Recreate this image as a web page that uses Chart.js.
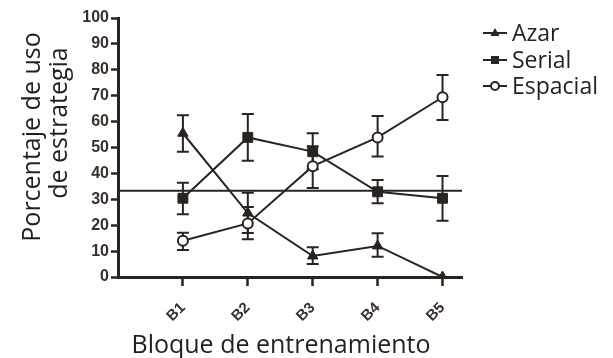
<!DOCTYPE html>
<html>
<head>
<meta charset="utf-8">
<script src="https://cdn.jsdelivr.net/npm/chart.js@4.4.1/dist/chart.umd.min.js"></script>
<style>
  html, body { margin: 0; padding: 0; background: #ffffff; }
  #wrap { width: 613px; height: 358px; position: relative; }
</style>
</head>
<body>
<div id="wrap"><canvas id="c" width="613" height="358"></canvas></div>
<script>
// ---- Data ----
const categories = ['B1', 'B2', 'B3', 'B4', 'B5'];
const yTicks = [0, 10, 20, 30, 40, 50, 60, 70, 80, 90, 100];

const azar = [55.5, 24.7, 8.1, 12.0, 0];
const azarLow = [48.4, 17.0, 5.0, 7.8, 0];
const azarHigh = [62.5, 32.5, 11.5, 16.9, 0];

const serial = [30.4, 53.9, 48.4, 32.9, 30.4];
const serialLow = [24.2, 44.9, 41.6, 28.5, 21.7];
const serialHigh = [36.4, 62.9, 55.5, 37.5, 39.0];

const espacial = [14.0, 20.7, 42.8, 53.9, 69.4];
const espacialLow = [10.4, 14.6, 34.4, 46.5, 60.6];
const espacialHigh = [17.1, 27.0, 50.5, 62.2, 78.0];

const chanceLevel = 33.3;

const seriesNames = ['Azar', 'Serial', 'Espacial'];

// ---- Styles ----
const INK = '#2a2320';
const TICKINK = '#3a2f2a';
const TEXTINK = '#231f20';
const FONT = "'Open Sans', 'Noto Sans', sans-serif";

const toPts = arr => arr.map((v, i) => ({ x: i + 1, y: v }));

const errorSets = [
  { low: azarLow, high: azarHigh },
  { low: serialLow, high: serialHigh },
  { low: espacialLow, high: espacialHigh }
];

const errorBarPlugin = {
  id: 'errorBars',
  beforeDatasetsDraw(chart) {
    const { ctx, scales: { x, y } } = chart;
    ctx.save();
    ctx.strokeStyle = INK;
    ctx.lineWidth = 2;
    errorSets.forEach(es => {
      es.low.forEach((lo, i) => {
        const hi = es.high[i];
        if (hi === lo) return;
        const px = x.getPixelForValue(i + 1);
        const pl = y.getPixelForValue(lo);
        const ph = y.getPixelForValue(hi);
        const cap = 6;
        ctx.beginPath();
        ctx.moveTo(px, pl); ctx.lineTo(px, ph);
        ctx.moveTo(px - cap, pl); ctx.lineTo(px + cap, pl);
        ctx.moveTo(px - cap, ph); ctx.lineTo(px + cap, ph);
        ctx.stroke();
      });
    });
    ctx.restore();
  }
};

const textPlugin = {
  id: 'texts',
  afterDraw(chart) {
    const { ctx } = chart;
    ctx.save();
    ctx.fillStyle = TEXTINK;
    // Y title (two lines)
    ctx.font = "25px " + FONT;
    ctx.textAlign = 'center';
    ctx.textBaseline = 'alphabetic';
    ctx.save(); ctx.translate(40, 137); ctx.rotate(-Math.PI / 2); ctx.fillText('Porcentaje de uso', 0, 0); ctx.restore();
    ctx.save(); ctx.translate(67, 123); ctx.rotate(-Math.PI / 2); ctx.fillText('de estrategia', 0, 0); ctx.restore();
    // X title
    ctx.font = "25px " + FONT;
    ctx.fillText('Bloque de entrenamiento', 281, 353);
    // Legend
    const ys = [33, 60, 86];
    const styles = ['triangle', 'rect', 'circle'];
    ctx.font = "23px " + FONT;
    ctx.textAlign = 'left';
    ctx.textBaseline = 'middle';
    seriesNames.forEach((name, i) => {
      const yy = ys[i];
      ctx.strokeStyle = INK; ctx.lineWidth = 2;
      ctx.beginPath(); ctx.moveTo(483, yy); ctx.lineTo(507, yy); ctx.stroke();
      const cx = 495;
      if (styles[i] === 'triangle') {
        ctx.fillStyle = INK;
        ctx.beginPath(); ctx.moveTo(cx, yy - 5); ctx.lineTo(cx + 4.5, yy + 3); ctx.lineTo(cx - 4.5, yy + 3); ctx.closePath(); ctx.fill();
      } else if (styles[i] === 'rect') {
        ctx.fillStyle = INK; ctx.fillRect(cx - 4, yy - 4, 8, 8);
      } else {
        ctx.fillStyle = '#ffffff';
        ctx.beginPath(); ctx.arc(cx, yy, 4, 0, Math.PI * 2); ctx.fill(); ctx.stroke();
      }
      ctx.fillStyle = TEXTINK;
      ctx.fillText(name, 512, yy + 1);
    });
    ctx.restore();
  }
};

new Chart(document.getElementById('c'), {
  type: 'line',
  data: {
    datasets: [
      {
        label: seriesNames[0], data: toPts(azar), borderColor: INK, backgroundColor: INK,
        borderWidth: 2, pointStyle: 'triangle', pointRadius: 6, pointBorderWidth: 1, order: 1
      },
      {
        label: seriesNames[1], data: toPts(serial), borderColor: INK, backgroundColor: INK,
        borderWidth: 2, pointStyle: 'rect', pointRadius: 7, pointBorderWidth: 1, order: 2
      },
      {
        label: seriesNames[2], data: toPts(espacial), borderColor: INK, backgroundColor: '#ffffff',
        borderWidth: 2, pointStyle: 'circle', pointRadius: 5, pointBorderWidth: 2, order: 0
      },
      {
        label: 'chance', data: [{ x: 0, y: chanceLevel }, { x: 5.3, y: chanceLevel }],
        borderColor: INK, borderWidth: 2, pointRadius: 0, order: 5
      }
    ]
  },
  options: {
    responsive: false,
    animation: false,
    devicePixelRatio: 1,
    layout: { padding: { top: 18, right: 151, left: 0, bottom: 0 } },
    plugins: { legend: { display: false }, tooltip: { enabled: false } },
    scales: {
      x: {
        type: 'linear', min: 0, max: 5.3,
        afterBuildTicks(axis) { axis.ticks = categories.map((c, i) => ({ value: i + 1 })); },
        afterFit(scale) { scale.height = 81; },
        ticks: {
          callback: (v) => categories[Math.round(v) - 1] || '',
          minRotation: 45, maxRotation: 45, autoSkip: false,
          color: TICKINK, font: { family: "'Liberation Sans', Arial, sans-serif", size: 15, weight: 'bold' },
          padding: 13
        },
        grid: { display: true, drawOnChartArea: false, drawTicks: true, tickLength: 9, tickWidth: 2.5, tickColor: INK },
        border: { display: true, width: 3, color: INK }
      },
      y: {
        type: 'linear', min: 0, max: 100,
        afterBuildTicks(axis) { axis.ticks = yTicks.map(v => ({ value: v })); },
        afterFit(scale) { scale.width = 118; },
        ticks: {
          color: TICKINK, font: { family: "'Liberation Sans', Arial, sans-serif", size: 16, weight: 'bold' },
          padding: 2
        },
        grid: { display: true, drawOnChartArea: false, drawTicks: true, tickLength: 7, tickWidth: 2.5, tickColor: INK },
        border: { display: true, width: 3, color: INK }
      }
    }
  },
  plugins: [errorBarPlugin, textPlugin]
});
</script>
</body>
</html>
